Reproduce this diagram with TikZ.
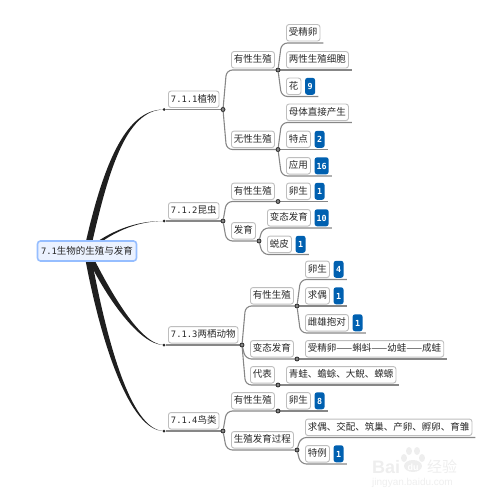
\documentclass[tikz,border=0pt]{standalone}
\usepackage{fontspec}
\setmainfont{Noto Sans CJK SC}
\newfontfamily\cjk{Noto Sans CJK SC}
\newfontfamily\numfont[Scale=0.93]{DejaVu Sans Mono}
\newfontfamily\markfont{Liberation Sans}
\definecolor{rootBlue}{RGB}{150, 190, 255}
\definecolor{rootFill}{RGB}{235, 242, 255}
\definecolor{boxLine}{RGB}{190, 190, 190}
\definecolor{linkGray}{RGB}{135, 135, 135}
\definecolor{tagBlue}{RGB}{0, 96, 176}
\definecolor{inkGray}{RGB}{40, 40, 40}
\definecolor{markGray}{RGB}{238, 238, 238}
\usetikzlibrary{calc, positioning, backgrounds}

\begin{document}
\begin{tikzpicture}[
        x=1pt, y=-1pt,
        topic/.style={rectangle, rounded corners=2.5pt, draw=boxLine, line width=0.9pt, fill=white, text=inkGray, anchor=south west, inner xsep=2.5pt, inner ysep=0pt, minimum height=16.5pt, text height=7.6pt, text depth=1.4pt, font=\fontsize{9.5}{11}\selectfont\cjk},
        main/.style={topic, draw=rootBlue, line width=1.6pt, fill=rootFill, anchor=center, inner xsep=3.5pt, minimum height=20pt, rounded corners=3pt},
        tag/.style={rectangle, rounded corners=2.5pt, fill=tagBlue, text=white, inner xsep=2pt, inner ysep=0pt, minimum width=10pt, minimum height=17pt, text height=6.5pt, text depth=0pt, font=\fontsize{9}{10}\selectfont\numfont\bfseries},
        knot/.style={circle, draw=inkGray, line width=0.8pt, fill=linkGray, inner sep=0pt, minimum size=4pt},
        dot/.style={circle, fill=black!85, inner sep=0pt, minimum size=3pt},
        branch/.style={draw=linkGray, line width=1.1pt, rounded corners=6pt},
        trunk/.style={fill=black!88},
        marktext/.style={text=markGray, anchor=west, inner sep=0pt}
    ]
        \useasboundingbox (0,0) rectangle (488,500);

        % Central topic
        \node[main] (root) at (87,251) {{\numfont 7.1}生物的生殖与发育};

        % Sections
        \foreach \name/\x/\y/\num/\txt in {n1/168/108/7.1.1/植物, n2/168/219.5/7.1.2/昆虫, n3/168/343.5/7.1.3/两栖动物, n4/168/429.5/7.1.4/鸟类} {
            \node[topic] (\name) at (\x,\y) {{\numfont \num}\txt};
            \node[dot] (\name dot) at (164,\y+1.5) {};
        }
        \foreach \name/\x/\y in {n1/223/109.5, n2/223/221, n3/242/345, n4/223/431} {
            \node[knot] (\name knot) at (\x,\y) {};
        }

        % Second level topics with their knots
        \foreach \name/\x/\y/\knotx/\txt in {a1/231/68.5/278/有性生殖, a2/231/148/278/无性生殖, b1/231/200/278/有性生殖, b2/231/239.5/259/发育, c1/250/304.5/297/有性生殖, c2/250/357.5/297/变态发育, c3/250/383.5/278/代表, d1/231/409.5/278/有性生殖, d2/231/448.5/297/生殖发育过程} {
            \node[topic] (\name) at (\x,\y) {\txt};
            \node[knot] (\name knot) at (\knotx,\y+1.5) {};
        }

        % Leaves
        \foreach \name/\x/\y/\txt in {a11/286/41.5/受精卵, a12/286/68.5/两性生殖细胞, a13/286/95/花, a21/286/121/母体直接产生, a22/286/148/特点, a23/286/174.5/应用, b11/286/200/卵生, b21/267/226.5/变态发育, b22/267/253/蜕皮, c11/305/278/卵生, c12/305/304.5/求偶, c13/305/331.5/雌雄抱对, c21/305/357.5/受精卵——蝌蚪——幼蛙——成蛙, c31/286/383.5/青蛙、蟾蜍、大鲵、蝾螈, d11/286/409.5/卵生, d21/305/436/求偶、交配、筑巢、产卵、孵卵、育雏, d22/305/462.5/特例} {
            \node[topic] (\name) at (\x,\y) {\txt};
        }

        % Number tags
        \foreach \name/\num in {a13/9, a22/2, a23/16, b11/1, b21/10, b22/1, c11/4, c12/1, c13/1, d11/8, d22/1} {
            \node[tag, right=3.5pt of \name] (\name tag) {\num};
        }

        \begin{scope}[on background layer]
            % Tapered main branches
            \fill[trunk] ($(root.center)+(-3,-1)$) .. controls (102,168.5) and (124.5,109) .. (n1dot.center) .. controls (125.5,110) and (108,171.5) .. ($(root.center)+(3,1)$) -- cycle;
            \fill[trunk] ($(root.center)+(-1,-1.5)$) .. controls (110,231) and (135,220.8) .. (n2dot.center) .. controls (135,221.2) and (110,233) .. ($(root.center)+(1,1.5)$) -- cycle;
            \fill[trunk] ($(root.center)+(-2.5,1)$) .. controls (105,296.5) and (139.5,345.4) .. (n3dot.center) .. controls (140.5,344.6) and (111,293.5) .. ($(root.center)+(2.5,-1)$) -- cycle;
            \fill[trunk] ($(root.center)+(-3,1)$) .. controls (100,341) and (129.5,431.4) .. (n4dot.center) .. controls (130.5,430.6) and (106,339) .. ($(root.center)+(3,-1)$) -- cycle;

            % Section underlines and links to second level
            \foreach \name in {n1, n2, n3, n4} {
                \draw[branch] (\name dot) -- (\name knot);
            }
            \foreach \from/\to in {n1knot/a1knot, n1knot/a2knot, n2knot/b1knot, n2knot/b2knot, n3knot/c1knot, n3knot/c2knot, n3knot/c3knot, n4knot/d1knot, n4knot/d2knot} {
                \draw[branch] (\from) -- ($(\from |- \to)+(3.5,0)$) -- (\to);
            }

            % Links to leaves, running under the last box of each row
            \foreach \from/\last in {a1knot/a11, a1knot/a12, a1knot/a13tag, a2knot/a21, a2knot/a22tag, a2knot/a23tag, b1knot/b11tag, b2knot/b21tag, b2knot/b22tag, c1knot/c11tag, c1knot/c12tag, c1knot/c13tag, c2knot/c21, c3knot/c31, d1knot/d11tag, d2knot/d21, d2knot/d22tag} {
                \draw[branch] (\from) -- ($(\from |- \last.south east)+(3.5,1.5)$) -- ($(\last.south east)+(3,1.5)$);
            }

            % Site mark in the corner
            \fill[markGray] (413,466) ellipse (9 and 6);
            \foreach \x/\y in {404/458, 409/451, 417/451, 422/458} {
                \fill[markGray] (\x,\y) ellipse (3 and 4);
            }
        \end{scope}
        \node[marktext, font=\fontsize{18}{20}\selectfont\markfont\bfseries] (markbai) at (372,467) {Bai};
        \node[marktext, text=white, font=\fontsize{9}{10}\selectfont\markfont\bfseries, anchor=center] (markdu) at (413,467) {du};
        \node[marktext, font=\fontsize{15}{16}\selectfont\cjk] (markjy) at (427,467) {经验};
        \node[marktext, font=\fontsize{10}{12}\selectfont\markfont] (markurl) at (372,483) {jingyan.baidu.com};
\end{tikzpicture}
\end{document}
